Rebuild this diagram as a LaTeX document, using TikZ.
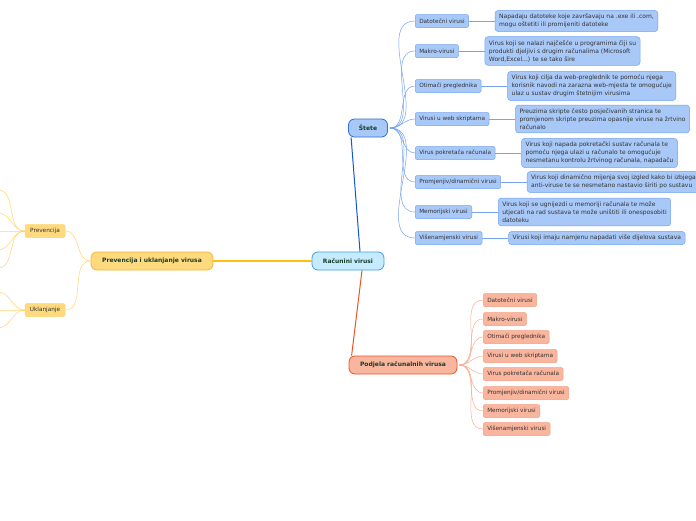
\documentclass[tikz,border=0pt]{standalone}
\usepackage{fontspec}
\setmainfont{DejaVu Sans}
\usetikzlibrary{positioning,calc}

\definecolor{rootfill}{HTML}{C6EBFF}
\definecolor{rootline}{HTML}{3F9FE0}
\definecolor{maintext}{HTML}{163D2C}
\definecolor{childtext}{HTML}{333333}
\definecolor{stetefill}{HTML}{A8C8F8}
\definecolor{steteline}{HTML}{2F6FD6}
\definecolor{stetechild}{HTML}{76A4EE}
\definecolor{stetelink}{HTML}{1358CC}
\definecolor{podfill}{HTML}{F9B59D}
\definecolor{podline}{HTML}{E8552A}
\definecolor{podchild}{HTML}{F49E82}
\definecolor{podlink}{HTML}{F8AE96}
\definecolor{prevfill}{HTML}{FFD97D}
\definecolor{prevline}{HTML}{F2B935}
\definecolor{prevmain}{HTML}{FFBF10}
\definecolor{prevlink}{HTML}{FFD56E}

\begin{document}
\begin{tikzpicture}[
    x=1pt, y=-1pt, font=\fontsize{5.75}{8}\selectfont,
    big/.style={rounded corners=6pt, line width=0.8pt, minimum height=18pt, inner xsep=6pt,
                font=\fontsize{6}{7}\selectfont\bfseries, text=maintext},
    rootbox/.style={big, draw=rootline, fill=rootfill},
    stetebox/.style={big, draw=steteline, fill=stetefill},
    podbox/.style={big, draw=podline, fill=podfill},
    prevbox/.style={big, draw=prevline, fill=prevfill},
    leaf/.style={rounded corners=2pt, line width=0.5pt, minimum height=13pt, inner xsep=4pt,
                 anchor=west, text=childtext},
    sleaf/.style={leaf, draw=stetechild, fill=stetefill},
    pleaf/.style={leaf, draw=podchild, fill=podfill},
    yleaf/.style={leaf, anchor=center, draw=prevlink, fill=prevfill, minimum width=40pt},
    desc/.style={sleaf, rounded corners=3pt, align=left, inner ysep=3.5pt,
                 font=\fontsize{6}{8}\selectfont, right=26pt of #1},
    slink/.style={draw=stetechild, line width=0.5pt},
    plink/.style={draw=podlink, line width=0.5pt},
    ylink/.style={draw=prevlink, line width=0.5pt},
]
\useasboundingbox (0,0) rectangle (696,520);
\clip (0,0) rectangle (696,520);
\fill[white] (0,0) rectangle (696,520);

% centre
\node[rootbox, minimum width=72pt] (virusi) at (348,261) {Računini virusi};
\node[stetebox, minimum width=39pt] (stete) at (368,128) {Štete};
\node[podbox, minimum width=108pt] (podjela) at (403,365) {Podjela računalnih virusa};
\node[prevbox, minimum width=122pt] (preuk) at (152,261) {Prevencija i uklanjanje virusa};
\draw[draw=stetelink, line width=1pt] ([xshift=12pt]virusi.north) -- ([xshift=3pt]stete.south west);
\draw[draw=podline, line width=1pt] ([xshift=14pt]virusi.south) -- ([xshift=3pt]podjela.north west);
\draw[prevmain, line width=1.4pt] (preuk.east) -- (virusi.west);

% Štete
\node[sleaf] (s1) at (415,21) {Datotečni virusi};
\node[sleaf] (s2) at (415,51) {Makro-virusi};
\node[sleaf] (s3) at (415,86) {Otimači preglednika};
\node[sleaf] (s4) at (415,119) {Virusi u web skriptama};
\node[sleaf] (s5) at (415,153) {Virus pokretača računala};
\node[sleaf] (s6) at (415,182) {Promjenjiv/dinamični virusi};
\node[sleaf] (s7) at (415,212) {Memorijski virusi};
\node[sleaf] (s8) at (415,238) {Višenamjenski virusi};
\foreach \i in {1,...,8}
    \draw[slink] ([xshift=2pt]stete.east) to[out=0,in=180] (s\i.west);

\node[desc=s1] (s1d) {Napadaju datoteke koje završavaju na .exe ili .com,\\mogu oštetiti ili promijeniti datoteke};
\node[desc=s2] (s2d) {Virus koji se nalazi najčešće u programima čiji su\\produkti djeljivi s drugim računalima (Microsoft\\Word,Excel...) te se tako šire};
\node[desc=s3] (s3d) {Virus koji cilja da web-preglednik te pomoću njega\\korisnik navodi na zarazna web-mjesta te omogućuje\\ulaz u sustav drugim štetnijim virusima};
\node[desc=s4] (s4d) {Preuzima skripte često posječivanih stranica te\\promjenom skripte preuzima opasnije viruse na žrtvino\\računalo};
\node[desc=s5] (s5d) {Virus koji napada pokretački sustav računala te\\pomoću njega ulazi u računalo te omogućuje\\nesmetanu kontrolu žrtvinog računala, napadaču};
\node[desc=s6] (s6d) {Virus koji dinamično mijenja svoj izgled kako bi izbjegao\\anti-viruse te se nesmetano nastavio širiti po sustavu};
\node[desc=s7] (s7d) {Virus koji se ugnijezdi u memoriji računala te može\\utjecati na rad sustava te može uništiti ili onesposobiti\\datoteku};
\node[desc=s8] (s8d) {Virusi koji imaju namjenu napadati više dijelova sustava};
\foreach \i in {1,...,8}
    \draw[slink] (s\i.east) -- (s\i d.west);

% Podjela
\node[pleaf] (p1) at (483,300) {Datotečni virusi};
\node[pleaf] (p2) at (483,319) {Makro-virusi};
\node[pleaf] (p3) at (483,337) {Otimači preglednika};
\node[pleaf] (p4) at (483,356) {Virusi u web skriptama};
\node[pleaf] (p5) at (483,374) {Virus pokretača računala};
\node[pleaf] (p6) at (483,393) {Promjenjiv/dinamični virusi};
\node[pleaf] (p7) at (483,411) {Memorijski virusi};
\node[pleaf] (p8) at (483,429) {Višenamjenski virusi};
\foreach \i in {1,...,8}
    \draw[plink] ([xshift=2pt]podjela.east) to[out=0,in=180] (p\i.west);

% Prevencija i uklanjanje
\node[yleaf] (prev) at (45,231) {Prevencija};
\node[yleaf] (ukl) at (45,310) {Uklanjanje};
\draw[ylink] (preuk.west) to[out=180,in=0] (prev.east);
\draw[ylink] (preuk.west) to[out=180,in=0] (ukl.east);
\coordinate (v1) at (-2,190);
\coordinate (v2) at (-2,213);
\coordinate (v3) at (-2,231);
\coordinate (v4) at (-2,250);
\coordinate (v5) at (-2,268);
\coordinate (u1) at (-2,292);
\coordinate (u2) at (-2,310);
\coordinate (u3) at (-2,328);
\foreach \c in {v1,v2,v3,v4,v5}
    \draw[ylink] (prev.west) to[out=180,in=0] (\c);
\foreach \c in {u1,u2,u3}
    \draw[ylink] (ukl.west) to[out=180,in=0] (\c);
\end{tikzpicture}
\end{document}
